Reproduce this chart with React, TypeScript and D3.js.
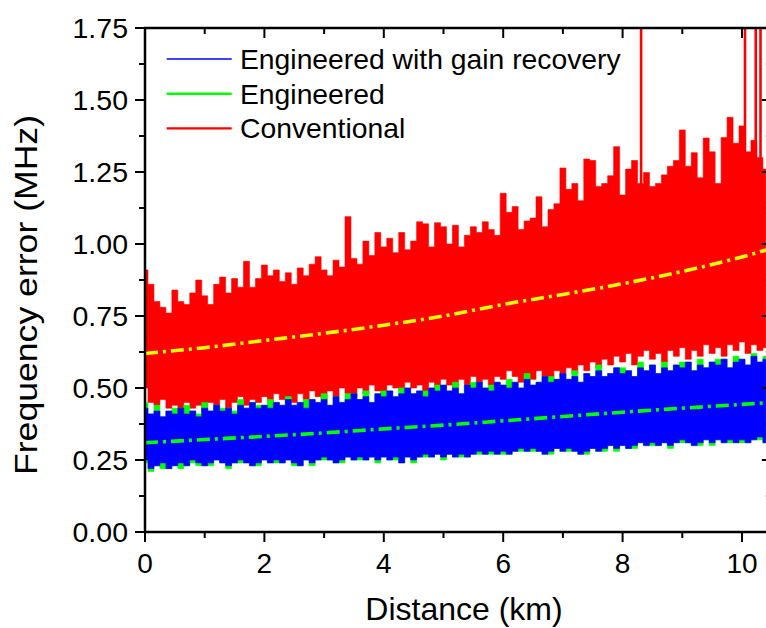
import React from 'react';
import * as d3 from 'd3';

// Sampling step of the recorded traces along the fibre (km)
const STEP_KM = 0.1;

// Conventional amplifier: upper / lower envelope of the frequency error (MHz)
const conventionalHi = [
  0.91, 0.86, 0.80, 0.78, 0.76, 0.84, 0.80, 0.79, 0.83, 0.875,
  0.82, 0.79, 0.86, 0.885, 0.83, 0.88, 0.85, 0.94, 0.85, 0.88,
  0.927, 0.89, 0.91, 0.87, 0.90, 0.86, 0.917, 0.89, 0.93, 0.956,
  0.91, 0.89, 0.944, 0.92, 1.095, 0.95, 0.93, 1.01, 0.96, 1.04,
  0.99, 1.02, 0.97, 1.04, 0.98, 1.01, 1.077, 1.07, 0.99, 1.074,
  1.06, 1.00, 1.065, 0.99, 1.03, 1.06, 1.04, 1.077, 1.05, 1.03,
  1.176, 1.11, 1.13, 1.05, 1.08, 1.09, 1.164, 1.06, 1.12, 1.14,
  1.264, 1.19, 1.21, 1.15, 1.295, 1.29, 1.20, 1.21, 1.237, 1.338,
  1.17, 1.26, 1.29, 1.21, 1.248, 1.20, 1.21, 1.24, 1.27, 1.29,
  1.396, 1.27, 1.317, 1.23, 1.368, 1.32, 1.21, 1.37, 1.44, 1.35,
  1.41, 1.32, 1.36, 1.30, 1.26,
];
const conventionalLo = [
  0.50, 0.45, 0.44, 0.46, 0.43, 0.44, 0.42, 0.45, 0.43, 0.44,
  0.42, 0.45, 0.44, 0.46, 0.43, 0.45, 0.47, 0.44, 0.46, 0.45,
  0.47, 0.45, 0.48, 0.46, 0.47, 0.45, 0.48, 0.46, 0.49, 0.47,
  0.46, 0.49, 0.47, 0.50, 0.48, 0.47, 0.50, 0.48, 0.51, 0.49,
  0.48, 0.51, 0.50, 0.49, 0.52, 0.50, 0.51, 0.49, 0.52, 0.50,
  0.53, 0.51, 0.50, 0.53, 0.51, 0.54, 0.52, 0.53, 0.51, 0.54,
  0.53, 0.56, 0.54, 0.52, 0.55, 0.53, 0.56, 0.54, 0.53, 0.56,
  0.54, 0.57, 0.55, 0.58, 0.56, 0.59, 0.57, 0.60, 0.58, 0.61,
  0.59, 0.62, 0.58, 0.61, 0.63, 0.60, 0.62, 0.59, 0.63, 0.61,
  0.64, 0.60, 0.63, 0.61, 0.65, 0.62, 0.64, 0.61, 0.65, 0.63,
  0.66, 0.62, 0.65, 0.63, 0.64,
];

// Engineered amplifier (without gain recovery)
const engineeredHi = [
  0.45, 0.41, 0.44, 0.40, 0.42, 0.43, 0.43, 0.44, 0.42, 0.41,
  0.45, 0.42, 0.44, 0.43, 0.43, 0.42, 0.46, 0.43, 0.45, 0.44,
  0.44, 0.46, 0.45, 0.44, 0.47, 0.44, 0.45, 0.46, 0.46, 0.45,
  0.48, 0.44, 0.47, 0.45, 0.48, 0.48, 0.46, 0.49, 0.45, 0.48,
  0.49, 0.49, 0.47, 0.50, 0.50, 0.48, 0.49, 0.49, 0.50, 0.51,
  0.51, 0.49, 0.52, 0.48, 0.51, 0.52, 0.52, 0.50, 0.51, 0.52,
  0.51, 0.53, 0.52, 0.50, 0.55, 0.51, 0.52, 0.54, 0.54, 0.53,
  0.55, 0.53, 0.56, 0.52, 0.55, 0.54, 0.58, 0.54, 0.55, 0.57,
  0.57, 0.56, 0.54, 0.59, 0.56, 0.58, 0.55, 0.59, 0.56, 0.58,
  0.59, 0.59, 0.56, 0.60, 0.57, 0.59, 0.60, 0.60, 0.57, 0.61,
  0.60, 0.58, 0.62, 0.59, 0.61,
];
const engineeredLo = [
  0.24, 0.21, 0.23, 0.22, 0.22, 0.23, 0.22, 0.23, 0.24, 0.23,
  0.23, 0.23, 0.25, 0.24, 0.22, 0.24, 0.24, 0.24, 0.23, 0.23,
  0.25, 0.24, 0.24, 0.24, 0.25, 0.23, 0.23, 0.25, 0.23, 0.25,
  0.25, 0.25, 0.24, 0.24, 0.26, 0.25, 0.25, 0.25, 0.26, 0.24,
  0.26, 0.25, 0.25, 0.24, 0.26, 0.24, 0.26, 0.26, 0.26, 0.27,
  0.25, 0.27, 0.26, 0.26, 0.26, 0.27, 0.27, 0.27, 0.27, 0.27,
  0.27, 0.27, 0.28, 0.28, 0.28, 0.28, 0.28, 0.27, 0.27, 0.29,
  0.28, 0.28, 0.28, 0.27, 0.27, 0.29, 0.28, 0.28, 0.30, 0.28,
  0.30, 0.29, 0.29, 0.31, 0.30, 0.30, 0.30, 0.31, 0.29, 0.31,
  0.31, 0.31, 0.30, 0.30, 0.32, 0.30, 0.32, 0.31, 0.31, 0.31,
  0.31, 0.31, 0.32, 0.32, 0.31,
];

// Engineered amplifier with gain recovery
const recoveryHi = [
  0.43, 0.41, 0.42, 0.40, 0.42, 0.41, 0.43, 0.41, 0.42, 0.40,
  0.43, 0.42, 0.44, 0.42, 0.43, 0.41, 0.44, 0.43, 0.45, 0.43,
  0.44, 0.43, 0.45, 0.44, 0.46, 0.44, 0.45, 0.43, 0.46, 0.45,
  0.46, 0.44, 0.47, 0.45, 0.46, 0.48, 0.46, 0.47, 0.45, 0.48,
  0.47, 0.49, 0.47, 0.48, 0.50, 0.48, 0.49, 0.47, 0.50, 0.49,
  0.51, 0.49, 0.50, 0.48, 0.51, 0.50, 0.52, 0.50, 0.49, 0.52,
  0.51, 0.50, 0.52, 0.50, 0.53, 0.51, 0.52, 0.54, 0.52, 0.53,
  0.55, 0.53, 0.54, 0.52, 0.55, 0.54, 0.56, 0.54, 0.55, 0.57,
  0.55, 0.56, 0.54, 0.57, 0.56, 0.58, 0.55, 0.57, 0.56, 0.58,
  0.57, 0.59, 0.56, 0.58, 0.57, 0.59, 0.58, 0.60, 0.57, 0.59,
  0.60, 0.58, 0.61, 0.59, 0.60,
];
const recoveryLo = [
  0.25, 0.22, 0.23, 0.24, 0.22, 0.23, 0.24, 0.23, 0.25, 0.24,
  0.23, 0.24, 0.25, 0.24, 0.23, 0.24, 0.25, 0.24, 0.23, 0.24,
  0.25, 0.24, 0.25, 0.24, 0.25, 0.24, 0.23, 0.25, 0.24, 0.25,
  0.26, 0.25, 0.24, 0.25, 0.26, 0.25, 0.26, 0.25, 0.26, 0.25,
  0.26, 0.25, 0.26, 0.24, 0.26, 0.25, 0.26, 0.27, 0.26, 0.27,
  0.26, 0.27, 0.26, 0.27, 0.26, 0.27, 0.28, 0.27, 0.28, 0.27,
  0.28, 0.27, 0.28, 0.29, 0.28, 0.29, 0.28, 0.27, 0.28, 0.29,
  0.28, 0.29, 0.28, 0.27, 0.28, 0.29, 0.28, 0.29, 0.30, 0.29,
  0.30, 0.29, 0.30, 0.31, 0.30, 0.31, 0.30, 0.31, 0.30, 0.31,
  0.32, 0.31, 0.30, 0.31, 0.32, 0.31, 0.32, 0.31, 0.32, 0.31,
  0.32, 0.31, 0.32, 0.33, 0.31,
];

// Isolated outliers of the conventional trace that leave the plotted range
const conventionalOutlierKm = [8.31, 10.05, 10.23, 10.31];
const conventionalOutlierValue = [1.9, 1.9, 1.9, 1.9];

// Mean trend curves
const trendKm = [0, 1, 2, 3, 4, 5, 6, 7, 8, 9, 10, 10.5];
const conventionalTrend = [0.62, 0.64, 0.665, 0.69, 0.718, 0.75, 0.79, 0.825, 0.862, 0.905, 0.955, 0.985];
const engineeredTrend = [0.31, 0.321, 0.332, 0.344, 0.358, 0.371, 0.386, 0.401, 0.416, 0.43, 0.443, 0.45];

const xTickValues = [0, 2, 4, 6, 8, 10];
const xMinorValues = [1, 3, 5, 7, 9];
const yTickValues = [0, 0.25, 0.5, 0.75, 1.0, 1.25, 1.5, 1.75];
const yMinorValues = [0.125, 0.375, 0.625, 0.875, 1.125, 1.375, 1.625];

const legendLabels = ['Engineered with gain recovery', 'Engineered', 'Conventional'];
const legendColors = ['#0000ff', '#00ff00', '#ff0000'];
const legendWidths = [1.3, 2.4, 2.4];

const FONT = '"Liberation Sans", Arial, Helvetica, sans-serif';

export default function App() {
  const W = 766;
  const H = 628;
  const x = d3.scaleLinear().domain([0, 10.5]).range([145, 771.85]);
  const y = d3.scaleLinear().domain([0, 1.75]).range([532, 28]);
  const [x0, x1] = x.range();
  const [yb, yt] = y.range();

  const band = (hi: number[], lo: number[]) =>
    d3
      .area<number>()
      .x((_, i) => x(i * STEP_KM))
      .y0((_, i) => y(lo[i]))
      .y1((d) => y(d))
      .curve(d3.curveStep)(hi) || '';

  const trend = d3
    .line<number>()
    .x((_, i) => x(trendKm[i]))
    .y((d) => y(d))
    .curve(d3.curveMonotoneX);

  const bands = [
    { hi: conventionalHi, lo: conventionalLo, color: '#ff0000' },
    { hi: engineeredHi, lo: engineeredLo, color: '#00ff00' },
    { hi: recoveryHi, lo: recoveryLo, color: '#0000ff' },
  ];

  const axisW = 2.5;
  const tickW = 2;

  return (
    <svg
      width={W}
      height={H}
      style={{ position: 'absolute', left: 0, top: 0, background: '#fff' }}
      fontFamily={FONT}
    >
      <defs>
        <clipPath id="plot-area">
          <rect x={x0} y={yt} width={x1 - x0} height={yb - yt} />
        </clipPath>
      </defs>

      <g clipPath="url(#plot-area)">
        {bands.map((b, k) => (
          <path key={k} d={band(b.hi, b.lo)} fill={b.color} stroke={b.color} strokeWidth={0.6} />
        ))}
        {conventionalOutlierKm.map((km, i) => (
          <line
            key={i}
            x1={x(km)}
            x2={x(km)}
            y1={y(conventionalTrend[10])}
            y2={y(conventionalOutlierValue[i])}
            stroke="#ff0000"
            strokeWidth={2.6}
          />
        ))}
        <path
          d={trend(conventionalTrend) || ''}
          fill="none"
          stroke="#ffff00"
          strokeWidth={3.6}
          strokeDasharray="13 5 3 5"
        />
        <path
          d={trend(engineeredTrend) || ''}
          fill="none"
          stroke="#00ff00"
          strokeWidth={3.6}
          strokeDasharray="13 5 3 5"
        />
      </g>

      {/* frame */}
      <rect x={x0} y={yt} width={x1 - x0} height={yb - yt} fill="none" stroke="#000" strokeWidth={axisW} />

      {/* bottom and top ticks */}
      {xTickValues.map((v) => (
        <g key={'xt' + v}>
          <line x1={x(v)} x2={x(v)} y1={yb} y2={yb + 10} stroke="#000" strokeWidth={tickW} />
          <line x1={x(v)} x2={x(v)} y1={yt} y2={yt + 10} stroke="#000" strokeWidth={tickW} />
          <text x={x(v)} y={573} fontSize={28} textAnchor="middle" fill="#000">
            {v}
          </text>
        </g>
      ))}
      {xMinorValues.map((v) => (
        <g key={'xm' + v}>
          <line x1={x(v)} x2={x(v)} y1={yb} y2={yb + 6} stroke="#000" strokeWidth={tickW} />
          <line x1={x(v)} x2={x(v)} y1={yt} y2={yt + 6} stroke="#000" strokeWidth={tickW} />
        </g>
      ))}

      {/* left and right ticks */}
      {yTickValues.map((v) => (
        <g key={'yt' + v}>
          <line x1={x0 - 10} x2={x0} y1={y(v)} y2={y(v)} stroke="#000" strokeWidth={tickW} />
          <line x1={x1 - 10} x2={x1} y1={y(v)} y2={y(v)} stroke="#000" strokeWidth={tickW} />
          <text x={128} y={y(v) + 10} fontSize={28.5} textAnchor="end" fill="#000">
            {d3.format('.2f')(v)}
          </text>
        </g>
      ))}
      {yMinorValues.map((v) => (
        <g key={'ym' + v}>
          <line x1={x0 - 6} x2={x0} y1={y(v)} y2={y(v)} stroke="#000" strokeWidth={tickW} />
          <line x1={x1 - 6} x2={x1} y1={y(v)} y2={y(v)} stroke="#000" strokeWidth={tickW} />
        </g>
      ))}

      {/* axis titles */}
      <text x={464} y={620} fontSize={32} textAnchor="middle" fill="#000">
        Distance (km)
      </text>
      <text
        transform="translate(37,295) rotate(-90)"
        fontSize={32}
        textAnchor="middle"
        textLength={360}
        lengthAdjust="spacingAndGlyphs"
        fill="#000"
      >
        Frequency error (MHz)
      </text>

      {/* legend */}
      {legendLabels.map((label, i) => {
        const ly = 59 + i * 34.7;
        return (
          <g key={label}>
            <line x1={166.7} x2={231.7} y1={ly} y2={ly} stroke={legendColors[i]} strokeWidth={legendWidths[i]} />
            <text x={240} y={ly + 10} fontSize={28.3} fill="#000">
              {label}
            </text>
          </g>
        );
      })}
    </svg>
  );
}
